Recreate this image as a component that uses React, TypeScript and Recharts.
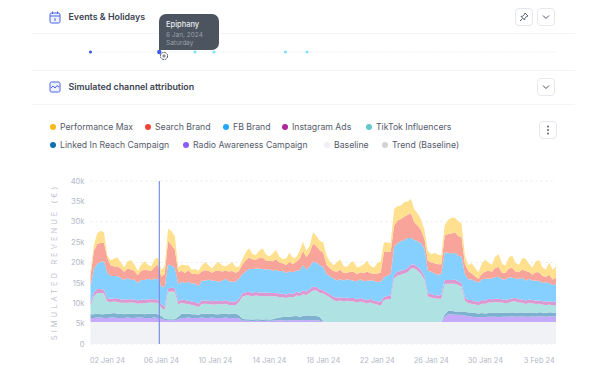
import {
  AreaChart,
  Area,
  XAxis,
  YAxis,
  CartesianGrid,
  ReferenceLine,
  ScatterChart,
  Scatter,
} from 'recharts';

const FONT = 'Inter, sans-serif';

// one point every 6 hours from 1 Jan 24, stack values in thousands
const baseline = [
  5.4, 5.4, 5.4, 5.4, 5.4, 5.4, 5.4, 5.4, 5.4, 5.4,
  5.4, 5.4, 5.4, 5.4, 5.4, 5.4, 5.4, 5.4, 5.4, 5.4,
  5.4, 5.4, 5.4, 5.4, 5.4, 5.4, 5.4, 5.4, 5.4, 5.4,
  5.4, 5.4, 5.4, 5.4, 5.4, 5.4, 5.4, 5.4, 5.4, 5.4,
  5.4, 5.4, 5.4, 5.4, 5.4, 5.4, 5.4, 5.4, 5.4, 5.4,
  5.4, 5.4, 5.4, 5.4, 5.4, 5.4, 5.4, 5.4, 5.4, 5.4,
  5.4, 5.4, 5.4, 5.4, 5.4, 5.4, 5.4, 5.4, 5.4, 5.4,
  5.4, 5.4, 5.4, 5.4, 5.4, 5.4, 5.4, 5.4, 5.4, 5.4,
  5.4, 5.4, 5.4, 5.4, 5.4, 5.4, 5.4, 5.4, 5.4, 5.4,
  5.4, 5.4, 5.4, 5.4, 5.4, 5.4, 5.4, 5.4, 5.4, 5.4,
  5.4, 5.4, 5.4, 5.4, 5.4, 5.4, 5.4, 5.4, 5.4, 5.4,
  5.4, 5.4, 5.4, 5.4, 5.4, 5.4, 5.4, 5.4, 5.4, 5.4,
  5.4, 5.4, 5.4, 5.4, 5.4, 5.4, 5.4, 5.4, 5.4, 5.4,
  5.4, 5.4, 5.4, 5.4, 5.4, 5.4, 5.4, 5.4, 5.4,
];
const radio = [
  1.0, 1.0, 1.1, 1.1, 1.0, 1.0, 1.1, 1.1, 1.0, 1.0,
  1.0, 1.1, 1.0, 1.0, 1.1, 1.1, 1.0, 1.0, 1.0, 1.1,
  1.0, 0.8, 0.5, 0.4, 0.4, 0.4, 0.7, 1.0, 1.0, 1.1,
  1.0, 1.0, 1.0, 1.1, 1.0, 1.0, 1.1, 1.0, 1.0, 1.0,
  1.1, 1.0, 1.0, 1.0, 0.9, 0.3, 0.3, 0.3, 0.2, 0.3,
  0.3, 0.2, 0.3, 0.3, 0.3, 0.4, 0.4, 0.4, 0.3, 0.4,
  0.4, 0.5, 0.4, 0.4, 0.5, 0.4, 0.4, 0.4, 0.3, 0.1,
  0, 0, 0, 0, 0, 0, 0, 0, 0, 0,
  0, 0, 0, 0, 0, 0, 0, 0, 0, 0,
  0, 0, 0, 0, 0, 0, 0, 0, 0, 0,
  0, 0, 0, 0, 0, 1.2, 1.9, 1.9, 1.8, 1.8,
  1.7, 1.6, 1.4, 1.3, 1.2, 1.1, 1.2, 1.2, 1.3, 1.3,
  1.3, 1.2, 1.3, 1.3, 1.3, 1.4, 1.3, 1.3, 1.4, 1.3,
  1.3, 1.4, 1.3, 1.4, 1.4, 1.3, 1.4, 1.4, 1.3,
];
const linkedIn = [
  0.9, 0.9, 0.9, 0.8, 0.9, 1.0, 1.0, 1.1, 1.0, 1.0,
  0.9, 0.9, 1.0, 1.0, 0.9, 0.9, 0.9, 1.0, 1.0, 0.9,
  0.9, 0.7, 0.3, 0.3, 0.3, 0.3, 0.6, 1.0, 1.0, 0.9,
  0.9, 0.9, 0.8, 0.9, 1.0, 1.0, 0.9, 0.9, 0.9, 1.0,
  1.0, 0.9, 1.0, 1.0, 0.8, 0.5, 0.4, 0.4, 0.4, 0.4,
  0.4, 0.4, 0.4, 0.3, 0.4, 0.5, 0.7, 0.8, 0.9, 0.9,
  1.0, 1.0, 0.9, 1.1, 1.1, 1.2, 1.1, 1.1, 0.9, 0.1,
  0, 0, 0, 0, 0, 0, 0, 0, 0, 0,
  0, 0, 0, 0, 0, 0, 0, 0, 0, 0,
  0, 0, 0, 0, 0, 0, 0, 0, 0, 0,
  0, 0, 0, 0, 0, 0.7, 0.8, 0.9, 0.8, 0.8,
  0.9, 0.9, 0.9, 1.0, 1.0, 1.0, 1.0, 0.9, 0.9, 1.0,
  0.9, 1.0, 1.0, 0.9, 0.9, 1.0, 0.9, 1.0, 0.9, 0.9,
  1.0, 0.9, 0.9, 1.0, 0.9, 0.9, 1.0, 0.9, 0.9,
];
const tikTok = [
  2.0, 4.4, 5.1, 5.2, 5.1, 3.0, 2.8, 2.8, 2.9, 2.7,
  2.8, 2.7, 2.8, 2.7, 2.5, 2.6, 2.7, 2.7, 2.8, 2.7,
  2.8, 2.0, 2.2, 6.7, 6.8, 6.7, 3.0, 2.7, 2.5, 2.4,
  2.3, 2.1, 1.9, 2.4, 2.5, 2.4, 2.3, 2.4, 2.5, 2.3,
  2.4, 2.3, 2.2, 2.1, 3.2, 5.4, 5.8, 5.8, 5.7, 5.8,
  5.7, 5.8, 5.7, 5.7, 5.6, 5.4, 5.0, 4.9, 4.7, 4.9,
  4.6, 5.0, 5.1, 5.3, 5.0, 5.6, 6.2, 6.2, 5.9, 6.8,
  6.5, 6.0, 5.4, 5.1, 5.3, 5.0, 5.2, 5.1, 5.0, 4.8,
  5.0, 4.8, 4.6, 4.8, 4.5, 4.3, 4.0, 5.4, 5.5, 5.6,
  10.6, 11.4, 11.6, 11.9, 12.2, 13.1, 13.2, 12.6, 11.8, 10.4,
  6.3, 6.0, 5.8, 5.7, 5.7, 7.5, 6.7, 6.6, 6.8, 6.5,
  6.1, 2.8, 2.3, 2.2, 2.1, 2.0, 2.3, 2.4, 2.6, 2.5,
  2.7, 2.6, 2.5, 2.4, 2.5, 2.6, 2.8, 2.5, 2.4, 2.2,
  2.4, 2.3, 2.2, 2.1, 2.0, 1.9, 1.9, 1.8, 1.9,
];
const instagram = [
  0.7, 0.9, 1.0, 1.0, 0.9, 0.8, 0.8, 0.8, 0.9, 0.8,
  0.8, 0.9, 0.8, 0.8, 0.8, 0.9, 0.8, 0.9, 0.8, 0.9,
  0.8, 0.8, 0.8, 0.9, 0.9, 0.9, 0.8, 0.8, 0.9, 0.8,
  0.8, 0.9, 0.8, 0.9, 0.8, 0.9, 0.8, 0.9, 0.8, 0.8,
  0.9, 0.8, 0.9, 0.8, 0.8, 0.8, 0.8, 0.9, 0.8, 0.9,
  0.8, 0.9, 0.8, 0.9, 0.8, 0.9, 0.8, 0.9, 0.8, 0.9,
  0.8, 0.9, 0.8, 0.9, 0.9, 0.9, 1.0, 0.9, 0.9, 0.8,
  0.8, 0.9, 0.8, 0.9, 0.8, 0.9, 0.8, 0.8, 0.9, 0.8,
  0.9, 0.8, 0.8, 0.9, 0.8, 0.8, 0.9, 0.8, 0.9, 0.9,
  0.9, 0.9, 1.0, 0.9, 1.0, 1.0, 0.9, 0.9, 0.9, 0.8,
  0.8, 0.9, 0.8, 0.8, 0.9, 0.9, 0.9, 0.9, 1.0, 0.9,
  0.9, 0.8, 0.8, 0.9, 0.8, 0.8, 0.9, 0.8, 0.9, 0.8,
  0.8, 0.9, 0.8, 0.8, 0.9, 0.8, 0.9, 0.8, 0.8, 0.9,
  0.8, 0.8, 0.9, 0.8, 0.8, 0.9, 0.8, 0.8, 0.9,
];
const fbBrand = [
  4.1, 5.8, 6.2, 6.6, 7.0, 6.2, 5.6, 5.5, 5.4, 5.3,
  4.8, 5.2, 4.7, 4.9, 4.3, 4.8, 4.9, 5.0, 4.7, 5.1,
  5.0, 4.4, 4.8, 5.9, 5.4, 5.0, 4.2, 4.4, 4.2, 4.7,
  4.4, 4.6, 4.3, 4.9, 4.8, 5.1, 5.0, 4.9, 4.7, 5.0,
  5.2, 5.0, 4.8, 5.0, 4.9, 4.7, 5.1, 5.6, 5.9, 5.7,
  5.9, 5.7, 5.6, 5.8, 5.4, 5.6, 5.5, 5.6, 5.3, 5.3,
  5.4, 5.2, 5.5, 6.2, 5.4, 5.6, 6.1, 6.0, 5.9, 5.7,
  4.4, 4.3, 4.5, 4.2, 4.4, 4.3, 4.5, 4.4, 4.2, 4.4,
  4.6, 4.4, 4.7, 4.5, 4.8, 4.7, 5.0, 4.7, 5.0, 5.3,
  6.9, 7.0, 7.2, 7.3, 7.4, 6.5, 6.0, 6.3, 6.6, 6.8,
  5.5, 5.4, 5.3, 5.1, 5.2, 6.8, 6.7, 6.5, 6.6, 6.3,
  6.4, 5.6, 5.1, 5.0, 4.9, 4.8, 5.0, 5.3, 5.0, 5.1,
  5.3, 5.4, 4.8, 5.0, 5.3, 5.1, 4.7, 5.0, 5.3, 4.8,
  5.1, 4.7, 4.9, 4.7, 4.6, 4.7, 4.5, 4.1, 4.3,
];
const searchBrand = [
  2.5, 4.4, 4.9, 4.7, 4.5, 3.7, 2.6, 2.3, 2.4, 2.3,
  2.0, 2.3, 2.6, 2.2, 1.9, 2.2, 2.5, 2.1, 2.2, 2.8,
  3.6, 2.4, 3.2, 5.7, 5.1, 4.5, 2.9, 2.7, 2.4, 2.8,
  2.5, 2.3, 2.9, 2.2, 2.6, 2.2, 2.0, 2.4, 2.7, 2.3,
  2.0, 2.4, 2.6, 2.2, 1.9, 2.4, 2.7, 2.8, 2.4, 2.2,
  2.6, 2.8, 2.3, 2.0, 2.4, 2.6, 2.2, 1.8, 2.0, 2.4,
  2.0, 2.2, 2.8, 3.6, 3.0, 3.4, 4.5, 4.0, 3.7, 3.5,
  2.3, 2.0, 1.8, 2.1, 2.3, 1.8, 1.6, 2.0, 2.2, 1.7,
  1.7, 2.0, 2.2, 1.8, 1.7, 2.1, 2.2, 6.3, 5.8, 5.5,
  5.2, 5.6, 5.5, 5.7, 5.7, 6.1, 4.4, 3.9, 3.2, 2.4,
  2.5, 2.3, 2.5, 2.6, 2.4, 4.1, 4.6, 4.9, 5.0, 4.8,
  4.8, 2.6, 2.0, 1.5, 1.2, 0.9, 1.4, 1.8, 1.9, 1.6,
  2.3, 2.4, 1.7, 1.6, 2.2, 2.4, 1.8, 1.6, 2.1, 2.4,
  1.7, 1.5, 2.0, 2.2, 1.6, 1.4, 2.0, 1.4, 1.6,
];
const performanceMax = [
  1.2, 1.5, 2.6, 3.0, 2.6, 0.6, 1.2, 2.0, 2.3, 1.5,
  1.1, 1.8, 2.3, 1.6, 1.0, 1.5, 2.1, 1.4, 1.1, 1.9,
  1.7, 1.6, 2.0, 3.0, 3.4, 3.3, 1.2, 1.5, 1.9, 1.2,
  0.9, 1.2, 0.9, 1.5, 2.0, 1.3, 1.0, 1.7, 2.1, 1.5,
  1.0, 1.7, 2.2, 1.4, 1.0, 1.3, 2.0, 2.3, 1.4, 1.1,
  1.8, 2.3, 1.5, 1.1, 1.9, 2.3, 1.4, 1.0, 1.6, 2.2,
  1.5, 1.1, 2.0, 2.2, 1.6, 1.7, 2.8, 2.5, 2.3, 2.5,
  2.3, 1.6, 1.4, 2.3, 2.6, 1.7, 1.4, 2.2, 2.6, 1.7,
  1.4, 2.2, 2.7, 1.8, 1.5, 2.5, 2.8, 2.4, 2.3, 2.1,
  4.1, 3.5, 3.3, 3.6, 3.3, 3.5, 3.1, 2.9, 2.6, 2.2,
  2.4, 2.0, 2.6, 2.3, 2.1, 2.5, 3.4, 3.9, 3.6, 3.7,
  3.3, 2.0, 1.4, 2.5, 2.1, 1.6, 2.5, 2.9, 2.0, 1.7,
  2.8, 3.1, 2.2, 1.8, 2.7, 3.1, 2.1, 1.8, 2.8, 3.0,
  2.0, 1.7, 2.7, 3.0, 2.1, 1.8, 3.0, 2.4, 2.7,
];

const xTicks = [4, 20, 36, 52, 68, 84, 100, 116, 132];
const xTickLabels = ['02 Jan 24', '06 Jan 24', '10 Jan 24', '14 Jan 24', '18 Jan 24', '22 Jan 24', '26 Jan 24', '30 Jan 24', '3 Feb 24'];
const yTicks = [0, 5, 10, 15, 20, 25, 30, 35, 40];

const firstEvent = [0];
const activeEvent = [20.4];
const otherEvents = [31, 36.6, 57.8, 64.2];

const chartData = baseline.map((value, i) => ({
  i,
  baseline: value,
  radio: radio[i],
  linkedIn: linkedIn[i],
  tikTok: tikTok[i],
  instagram: instagram[i],
  fbBrand: fbBrand[i],
  searchBrand: searchBrand[i],
  performanceMax: performanceMax[i],
}));

const areas = [
  { key: 'baseline', fill: '#f1f2f6' },
  { key: 'radio', fill: '#c5a9fb' },
  { key: 'linkedIn', fill: '#7eb0cf' },
  { key: 'tikTok', fill: '#afe2e3' },
  { key: 'instagram', fill: '#dc98d0' },
  { key: 'fbBrand', fill: '#85d0fe' },
  { key: 'searchBrand', fill: '#f9a49b' },
  { key: 'performanceMax', fill: '#fee08f' },
];

const legendItems = [
  { name: 'Performance Max', color: '#fdb913', dot: 53, text: 60, y: 127 },
  { name: 'Search Brand', color: '#f04438', dot: 148, text: 155, y: 127 },
  { name: 'FB Brand', color: '#1fa8f5', dot: 226, text: 233, y: 127 },
  { name: 'Instagram Ads', color: '#b0279c', dot: 285, text: 292, y: 127 },
  { name: 'TikTok Influencers', color: '#62c8cc', dot: 369, text: 376, y: 127 },
  { name: 'Linked In Reach Campaign', color: '#0f6fb0', dot: 53, text: 60, y: 145 },
  { name: 'Radio Awareness Campaign', color: '#8b5cf6', dot: 186, text: 193, y: 145 },
  { name: 'Baseline', color: '#eef0f5', dot: 327, text: 334, y: 145 },
  { name: 'Trend (Baseline)', color: '#d4d2d2', dot: 385, text: 392, y: 145 },
];

const dividers = [33, 70, 104];

function IconButton({ left, top, children }: { left: number; top: number; children: any }) {
  return (
    <div
      style={{
        position: 'absolute',
        left,
        top,
        width: 18,
        height: 18,
        border: '1px solid #e6e8ee',
        borderRadius: 4,
        boxSizing: 'border-box',
        display: 'flex',
        alignItems: 'center',
        justifyContent: 'center',
        background: '#fff',
      }}
    >
      {children}
    </div>
  );
}

const Chevron = () => (
  <svg width="8" height="6" viewBox="0 0 8 6">
    <path d="M1 1.5 L4 4.5 L7 1.5" fill="none" stroke="#4a5160" strokeWidth="1" />
  </svg>
);

function Heading({ top, text }: { top: number; text: string }) {
  return (
    <div style={{ position: 'absolute', left: 68.5, top, fontSize: 8.9, fontWeight: 600, color: '#3c4352', lineHeight: '12px', whiteSpace: 'nowrap' }}>
      {text}
    </div>
  );
}

const eventDot = (r: number) => (props: any) => <circle cx={props.cx} cy={props.cy} r={r} fill={props.fill} />;

export default function App() {
  return (
    <div style={{ position: 'absolute', left: 0, top: 0, width: 604, height: 365, background: '#fff', fontFamily: FONT, overflow: 'hidden' }}>
      {dividers.map((y) => (
        <div key={y} style={{ position: 'absolute', left: 32, top: y, width: 543, height: 1, background: '#f3f4f7' }} />
      ))}

      <svg style={{ position: 'absolute', left: 49, top: 11 }} width="12" height="13" viewBox="0 0 12 13">
        <rect x="1" y="2" width="10" height="10" rx="1.5" fill="#eef1fe" stroke="#4a63e8" />
        <path d="M1 5 H11 M3.5 0.5 V3 M8.5 0.5 V3 M6 7 V10" stroke="#4a63e8" fill="none" />
      </svg>
      <Heading top={11} text="Events & Holidays" />
      <IconButton left={515} top={8}>
        <svg width="10" height="10" viewBox="0 0 10 10">
          <path d="M6 1 L9 4 L7.5 4.5 L5.8 6.5 L5.6 8 L2 4.4 L3.5 4.2 L5.5 2.5 Z M3.5 6.5 L1 9" fill="none" stroke="#4a5160" strokeWidth="0.9" />
        </svg>
      </IconButton>
      <IconButton left={537} top={8}>
        <Chevron />
      </IconButton>

      <div style={{ position: 'absolute', left: 0, top: 40 }}>
        <ScatterChart width={604} height={24} margin={{ top: 0, right: 48, bottom: 0, left: 90.5 }}>
          <XAxis type="number" dataKey="x" domain={[0, 138]} hide />
          <YAxis type="number" dataKey="y" domain={[0, 2]} hide width={0} />
          <ReferenceLine y={1} stroke="#dfe1e8" strokeDasharray="1 2" />
          <Scatter data={firstEvent.map((x) => ({ x, y: 1 }))} fill="#3f5be8" shape={eventDot(1.6)} isAnimationActive={false} />
          <Scatter data={activeEvent.map((x) => ({ x, y: 1 }))} fill="#3f5be8" shape={eventDot(2.2)} isAnimationActive={false} />
          <Scatter data={otherEvents.map((x) => ({ x, y: 1 }))} fill="#7fe3f5" shape={eventDot(1.6)} isAnimationActive={false} />
        </ScatterChart>
      </div>

      <div style={{ position: 'absolute', left: 159, top: 14, width: 60, height: 36, background: '#4b545f', borderRadius: '7px 7px 7px 0', boxSizing: 'border-box', padding: '6px 0 0 7px', whiteSpace: 'nowrap' }}>
        <div style={{ fontSize: 7.5, fontWeight: 500, color: '#e8eaee', lineHeight: '9px' }}>Epiphany</div>
        <div style={{ fontSize: 6.5, color: '#9aa1ab', lineHeight: '8px', marginTop: 2 }}>6 Jan, 2024</div>
        <div style={{ fontSize: 6.5, color: '#9aa1ab', lineHeight: '8px' }}>Saturday</div>
      </div>
      <svg style={{ position: 'absolute', left: 159, top: 51 }} width="10" height="10" viewBox="0 0 10 10">
        <circle cx="5" cy="5" r="3.6" fill="#fff" stroke="#4a4f57" strokeWidth="1" strokeDasharray="2 0.8" />
        <path d="M3 5 H7 M5 3 V7" stroke="#4a4f57" strokeWidth="0.7" />
      </svg>

      <svg style={{ position: 'absolute', left: 49, top: 81 }} width="12" height="12" viewBox="0 0 12 12">
        <rect x="1" y="1" width="10" height="10" rx="1.5" fill="#eef1fe" stroke="#4a63e8" />
        <path d="M2 7 L4 5 L6 7 L8 4.5 L10 6" fill="none" stroke="#4a63e8" />
      </svg>
      <Heading top={81} text="Simulated channel attribution" />
      <IconButton left={537} top={78}>
        <Chevron />
      </IconButton>

      {legendItems.map((item) => (
        <div key={item.name}>
          <div style={{ position: 'absolute', left: item.dot - 3, top: item.y - 3, width: 6, height: 6, borderRadius: 3, background: item.color }} />
          <div style={{ position: 'absolute', left: item.text, top: item.y - 6, fontSize: 8.7, color: '#555b6b', lineHeight: '12px', whiteSpace: 'nowrap' }}>
            {item.name}
          </div>
        </div>
      ))}
      <IconButton left={539} top={121}>
        <svg width="4" height="10" viewBox="0 0 4 10">
          <circle cx="2" cy="1.5" r="0.9" fill="#4a5160" />
          <circle cx="2" cy="5" r="0.9" fill="#4a5160" />
          <circle cx="2" cy="8.5" r="0.9" fill="#4a5160" />
        </svg>
      </IconButton>

      <div style={{ position: 'absolute', left: 0, top: 170 }}>
        <AreaChart width={604} height={195} data={chartData} margin={{ top: 11, right: 48, bottom: 0, left: 50.5 }}>
          <CartesianGrid vertical={false} stroke="#e9eaef" strokeDasharray="2 3" />
          <XAxis
            type="number"
            dataKey="i"
            domain={[0, 138]}
            ticks={xTicks}
            interval={0}
            height={21}
            axisLine={false}
            tickLine={false}
            tickMargin={8}
            tick={{ fontSize: 7.4, fill: '#b4b8c7', fontFamily: FONT, dx: 3.5 }}
            tickFormatter={(value: number) => xTickLabels[xTicks.indexOf(value)]}
          />
          <YAxis
            width={40}
            domain={[0, 40]}
            ticks={yTicks}
            axisLine={false}
            tickLine={false}
            tickMargin={0}
            tick={{ fontSize: 7.6, fill: '#b4b8c7', fontFamily: FONT }}
            tickFormatter={(value: number) => (value === 0 ? '0' : `${value}k`)}
          />
          {areas.map((a) => (
            <Area
              key={a.key}
              type="linear"
              dataKey={a.key}
              stackId="channels"
              fill={a.fill}
              fillOpacity={1}
              stroke="none"
              dot={false}
              activeDot={false}
              isAnimationActive={false}
            />
          ))}
          <ReferenceLine x={20.4} stroke="#7c8fe6" strokeWidth={1.2} />
        </AreaChart>
      </div>

      <div style={{ position: 'absolute', left: 54, top: 262, width: 0, height: 0 }}>
        <div style={{ position: 'absolute', transform: 'translate(-50%, -50%) rotate(-90deg)', fontSize: 7.6, letterSpacing: 3, color: '#bfc3d0', whiteSpace: 'nowrap' }}>
          SIMULATED REVENUE (€)
        </div>
      </div>
    </div>
  );
}
